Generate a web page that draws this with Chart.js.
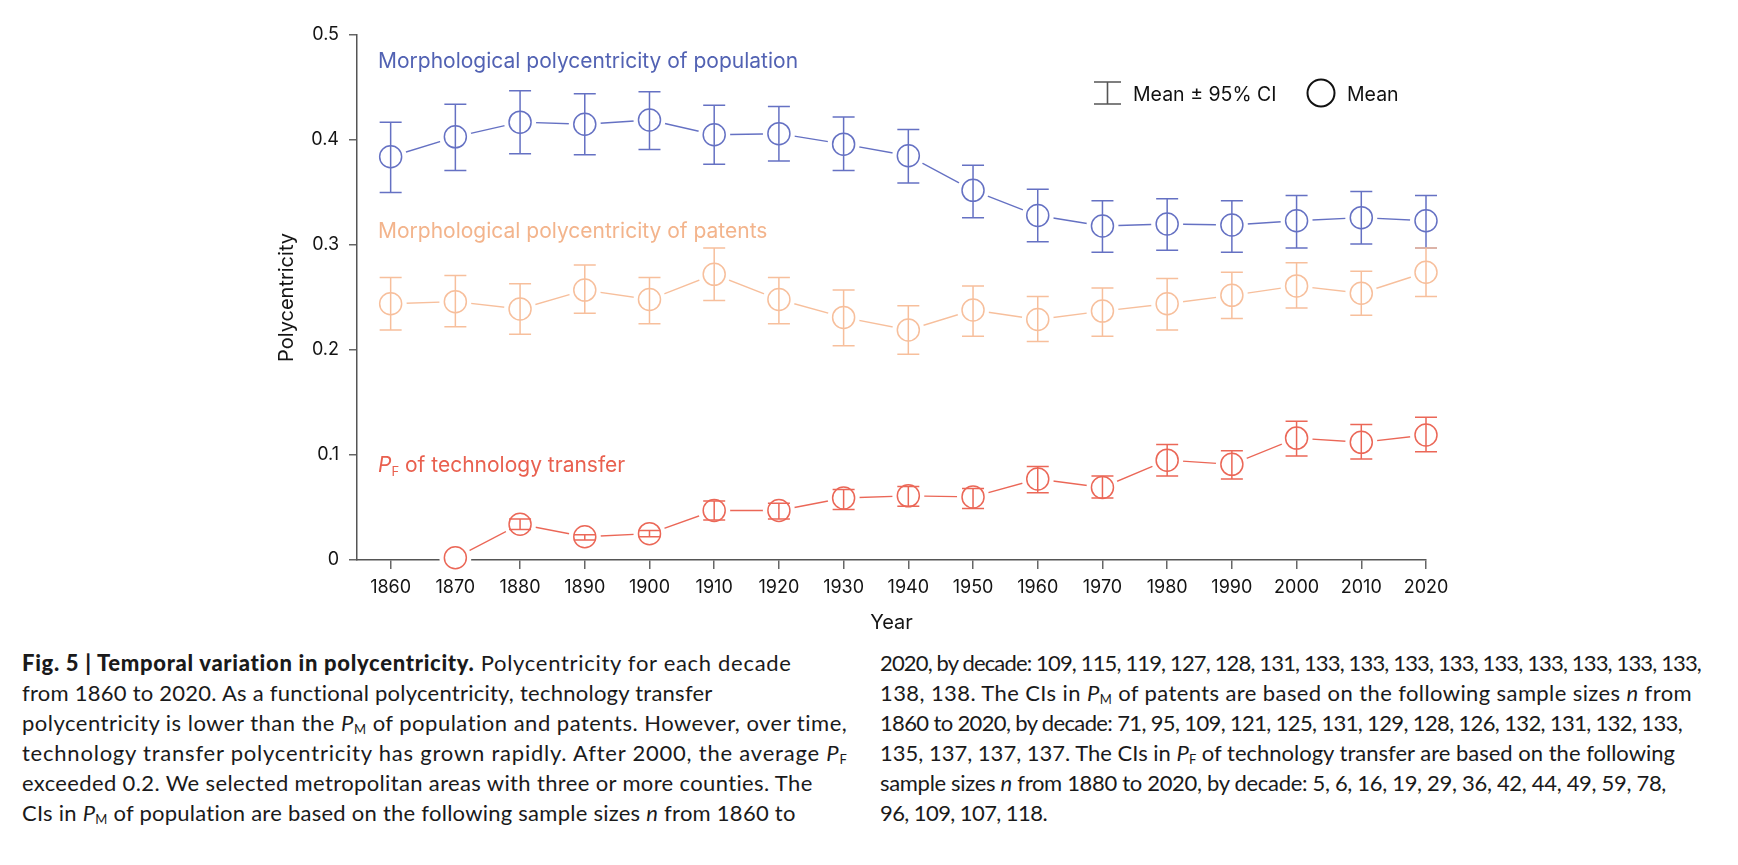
<!DOCTYPE html>
<html>
<head>
<meta charset="utf-8">
<title>Fig. 5 - Temporal variation in polycentricity</title>
<script src="https://cdn.jsdelivr.net/npm/chart.js@4.4.1/dist/chart.umd.min.js"></script>
<style>
  body { margin: 0; background: #fff; width: 1738px; height: 865px; overflow: hidden; position: relative; font-family: Inter, sans-serif; }
  #box_grafico { position: absolute; left: 0; top: 0; width: 1738px; height: 640px; }
  .etichetta { position: absolute; font-family: Inter, sans-serif; font-size: 21px; line-height: 21px; white-space: nowrap; }
  .etichetta sub { font-size: 13px; vertical-align: -4px; line-height: 0; }
  .legenda { position: absolute; font-family: Inter, sans-serif; font-size: 19.5px; line-height: 20px; white-space: nowrap; color: #111; }
  .didascalia { position: absolute; top: 648px; font-family: Lato, sans-serif; font-size: 22px; line-height: 30px; color: #1a1a1a; }
  .didascalia div { white-space: nowrap; }
  .didascalia sub { font-size: 13px; vertical-align: -3px; line-height: 0; }
  .didascalia b { font-weight: 900; }
</style>
</head>
<body>

<div id="box_grafico"><canvas id="grafico"></canvas></div>

<!-- etichette delle serie, scritte dentro al grafico -->
<div class="etichetta" style="left:378px; top:50px; color:#5262b3;">Morphological polycentricity of population</div>
<div class="etichetta" style="left:378px; top:220px; color:#f3b48c;">Morphological polycentricity of patents</div>
<div class="etichetta" style="left:378px; top:454px; color:#e9604f;"><i>P</i><sub>F</sub> of technology transfer</div>

<!-- legenda -->
<svg style="position:absolute; left:1090px; top:79px;" width="36" height="30">
  <path d="M4 3 H31 M17.5 3 V25 M4 25 H31" stroke="#555" stroke-width="1.6" fill="none"/>
</svg>
<div class="legenda" style="left:1133px; top:84px;">Mean ± 95% CI</div>
<svg style="position:absolute; left:1304px; top:76px;" width="34" height="34">
  <circle cx="17" cy="17" r="13.5" stroke="#111" stroke-width="2" fill="none"/>
</svg>
<div class="legenda" style="left:1347px; top:84px;">Mean</div>

<!-- didascalia su due colonne -->
<div class="didascalia" id="col_sx" style="left:22px;">
  <div><span><b>Fig. 5 | Temporal variation in polycentricity.</b> Polycentricity for each decade</span></div>
  <div><span>from 1860 to 2020. As a functional polycentricity, technology transfer</span></div>
  <div><span>polycentricity is lower than the <i>P</i><sub>M</sub> of population and patents. However, over time,</span></div>
  <div><span>technology transfer polycentricity has grown rapidly. After 2000, the average <i>P</i><sub>F</sub></span></div>
  <div><span>exceeded 0.2. We selected metropolitan areas with three or more counties. The</span></div>
  <div><span>CIs in <i>P</i><sub>M</sub> of population are based on the following sample sizes <i>n</i> from 1860 to</span></div>
</div>
<div class="didascalia" id="col_dx" style="left:880px;">
  <div><span>2020, by decade: 109, 115, 119, 127, 128, 131, 133, 133, 133, 133, 133, 133, 133, 133, 133,</span></div>
  <div><span>138, 138. The CIs in <i>P</i><sub>M</sub> of patents are based on the following sample sizes <i>n</i> from</span></div>
  <div><span>1860 to 2020, by decade: 71, 95, 109, 121, 125, 131, 129, 128, 126, 132, 131, 132, 133,</span></div>
  <div><span>135, 137, 137, 137. The CIs in <i>P</i><sub>F</sub> of technology transfer are based on the following</span></div>
  <div><span>sample sizes <i>n</i> from 1880 to 2020, by decade: 5, 6, 16, 19, 29, 36, 42, 44, 49, 59, 78,</span></div>
  <div><span>96, 109, 107, 118.</span></div>
</div>

<script>
// anni (un punto per decennio) e etichette degli assi
var anni = [1860, 1870, 1880, 1890, 1900, 1910, 1920, 1930, 1940, 1950, 1960, 1970, 1980, 1990, 2000, 2010, 2020];
var etichette_x = ['1860', '1870', '1880', '1890', '1900', '1910', '1920', '1930', '1940', '1950', '1960', '1970', '1980', '1990', '2000', '2010', '2020'];
var valori_y = [0, 0.1, 0.2, 0.3, 0.4, 0.5];
var etichette_y = ['0', '0.1', '0.2', '0.3', '0.4', '0.5'];

// P_M della popolazione: media e intervallo di confidenza al 95%
var pop_media = [0.384, 0.403, 0.417, 0.415, 0.419, 0.405, 0.406, 0.396, 0.385, 0.352, 0.328, 0.318, 0.320, 0.319, 0.323, 0.326, 0.323];
var pop_alto  = [0.417, 0.434, 0.447, 0.444, 0.446, 0.433, 0.432, 0.422, 0.410, 0.376, 0.353, 0.342, 0.344, 0.342, 0.347, 0.351, 0.347];
var pop_basso = [0.350, 0.371, 0.387, 0.386, 0.391, 0.377, 0.380, 0.371, 0.359, 0.326, 0.303, 0.293, 0.295, 0.293, 0.297, 0.301, 0.297];

// P_M dei brevetti
var brev_media = [0.244, 0.246, 0.239, 0.257, 0.248, 0.272, 0.248, 0.231, 0.219, 0.238, 0.229, 0.237, 0.244, 0.252, 0.261, 0.254, 0.274];
var brev_alto  = [0.269, 0.271, 0.263, 0.281, 0.269, 0.297, 0.269, 0.257, 0.242, 0.261, 0.251, 0.259, 0.268, 0.274, 0.283, 0.275, 0.297];
var brev_basso = [0.219, 0.222, 0.215, 0.235, 0.225, 0.247, 0.225, 0.204, 0.196, 0.213, 0.208, 0.213, 0.219, 0.230, 0.240, 0.233, 0.251];

// P_F del trasferimento tecnologico (nessun dato nel 1860, nessun CI nel 1870)
var tec_media = [null, 0.002, 0.034, 0.022, 0.025, 0.047, 0.047, 0.059, 0.061, 0.060, 0.077, 0.069, 0.095, 0.091, 0.116, 0.112, 0.119];
var tec_alto  = [null, null, 0.039, 0.024, 0.028, 0.056, 0.054, 0.067, 0.070, 0.068, 0.089, 0.080, 0.110, 0.104, 0.132, 0.129, 0.136];
var tec_basso = [null, null, 0.029, 0.019, 0.022, 0.038, 0.039, 0.048, 0.051, 0.049, 0.064, 0.059, 0.080, 0.077, 0.099, 0.096, 0.103];

// larghezze delle righe della didascalia, per avvicinarle all'originale
var larghezze_sx = [770, 691, 826, 825, 791, 774];
var larghezze_dx = [821, 812, 802, 795, 786, 167];

var blu = '#6571c3';
var arancio = '#f7bf9c';
var rosso = '#eb6757';

var serie_ci = [
  { colore: blu, alto: pop_alto, basso: pop_basso },
  { colore: arancio, alto: brev_alto, basso: brev_basso },
  { colore: rosso, alto: tec_alto, basso: tec_basso }
];

// per ogni serie: linea, alone bianco (crea lo stacco tra linea e cerchio), cerchio vuoto
function crea_serie(nome, medie, colore) {
  var punti = anni.map(function (a, i) { return { x: a, y: medie[i] }; });
  return [
    { label: nome + ' linea', data: punti, borderColor: colore, borderWidth: 1.4, pointRadius: 0, order: 3, clip: false },
    { label: nome + ' alone', data: punti, showLine: false, pointRadius: 16, pointBackgroundColor: '#fff', pointBorderWidth: 0, pointBorderColor: '#fff', order: 2, clip: false },
    { label: nome, data: punti, showLine: false, pointRadius: 11, pointBackgroundColor: 'rgba(0,0,0,0)', pointBorderColor: colore, pointBorderWidth: 1.5, order: 1, clip: false }
  ];
}

// barre di errore disegnate sopra ai dataset
var barre_errore = {
  id: 'barre_errore',
  afterDatasetsDraw: function (chart) {
    var ctx = chart.ctx;
    var sx = chart.scales.x, sy = chart.scales.y;
    serie_ci.forEach(function (s) {
      ctx.save();
      ctx.strokeStyle = s.colore;
      ctx.lineWidth = 1.5;
      anni.forEach(function (anno, i) {
        if (s.alto[i] == null) return;
        var x = sx.getPixelForValue(anno);
        var y1 = sy.getPixelForValue(s.alto[i]);
        var y2 = sy.getPixelForValue(s.basso[i]);
        ctx.beginPath();
        ctx.moveTo(x, y1); ctx.lineTo(x, y2);
        ctx.moveTo(x - 11, y1); ctx.lineTo(x + 11, y1);
        ctx.moveTo(x - 11, y2); ctx.lineTo(x + 11, y2);
        ctx.stroke();
      });
      ctx.restore();
    });
  }
};

// allarga o stringe ogni riga con la spaziatura tra lettere
function adatta_righe(id, larghezze) {
  var righe = document.querySelectorAll('#' + id + ' > div > span');
  righe.forEach(function (span, i) {
    var naturale = span.getBoundingClientRect().width;
    var n = span.textContent.length;
    span.style.letterSpacing = ((larghezze[i] - naturale) / n) + 'px';
  });
}
adatta_righe('col_sx', larghezze_sx);
adatta_righe('col_dx', larghezze_dx);

Chart.defaults.font.family = 'Inter, sans-serif';
Chart.defaults.color = '#141414';

var dataset = [].concat(
  crea_serie('Morphological polycentricity of population', pop_media, blu),
  crea_serie('Morphological polycentricity of patents', brev_media, arancio),
  crea_serie('PF of technology transfer', tec_media, rosso)
);

var ctx = document.getElementById('grafico').getContext('2d');
var grafico = new Chart(ctx, {
  type: 'line',
  data: { datasets: dataset },
  plugins: [barre_errore],
  options: {
    responsive: true,
    maintainAspectRatio: false,
    animation: false,
    layout: { padding: { left: 265, right: 312, top: 35, bottom: 5.5 } },
    plugins: { legend: { display: false }, tooltip: { enabled: false } },
    scales: {
      x: {
        type: 'linear',
        min: 1854.8,
        max: 2020,
        afterBuildTicks: function (s) { s.ticks = anni.map(function (v) { return { value: v }; }); },
        grid: { drawOnChartArea: false, drawTicks: true, tickLength: 9, color: '#666', lineWidth: 1.5 },
        border: { display: true, color: '#555', width: 1.5 },
        ticks: {
          autoSkip: false, maxRotation: 0, padding: 8,
          font: { size: 18 },
          callback: function (v) { return etichette_x[anni.indexOf(v)]; }
        },
        title: { display: true, text: 'Year', font: { size: 20 }, padding: { top: 4, bottom: 0 } }
      },
      y: {
        min: 0,
        max: 0.5,
        afterBuildTicks: function (s) { s.ticks = valori_y.map(function (v) { return { value: v }; }); },
        afterFit: function (s) { s.width = 92; },
        grid: { drawOnChartArea: false, drawTicks: true, tickLength: 8, color: '#666', lineWidth: 1.5 },
        border: { display: true, color: '#555', width: 1.5 },
        ticks: {
          padding: 10,
          font: { size: 18 },
          callback: function (v) { return etichette_y[valori_y.indexOf(v)]; }
        },
        title: { display: true, text: 'Polycentricity', font: { size: 20 }, padding: { top: 10, bottom: 0 } }
      }
    }
  }
});
</script>
</body>
</html>
